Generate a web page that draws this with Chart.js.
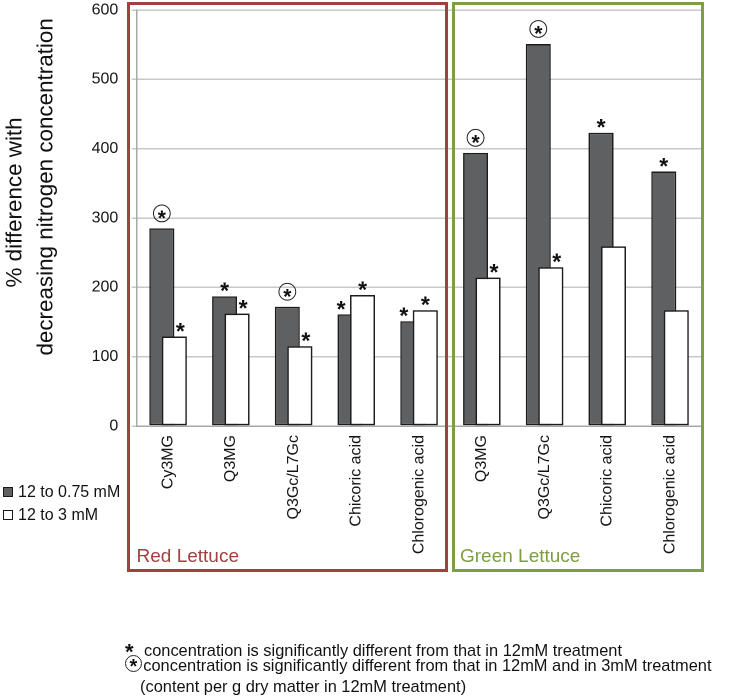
<!DOCTYPE html>
<html>
<head>
<meta charset="utf-8">
<script src="https://cdn.jsdelivr.net/npm/chart.js@4.4.1/dist/chart.umd.min.js"></script>
<style>
  html, body { margin: 0; padding: 0; background: #ffffff; }
  #wrap { position: relative; width: 733px; height: 698px; font-family: "Liberation Sans", Arial, sans-serif; color: #111; }
  #wrap canvas { position: absolute; left: 0; top: 0; }
  .box { position: absolute; box-sizing: border-box; border: 3px solid; pointer-events: none; }
  .grp { position: absolute; font-size: 19px; line-height: 1; }
  .leg { position: absolute; left: 3px; font-size: 16px; line-height: 1; display: flex; align-items: center; white-space: nowrap; }
  .leg i { display: inline-block; width: 8px; height: 8px; border: 1px solid #1a1a1a; margin-right: 5px; }
  .note { position: absolute; font-size: 16.4px; line-height: 1; white-space: nowrap; }
  .circ { position: absolute; width: 17px; height: 17px; border: 1px solid #222; border-radius: 50%; box-sizing: border-box; text-align: center; font-size: 20px; line-height: 21px; font-weight: bold; }
</style>
</head>
<body>
<div id="wrap">
  <canvas id="c" width="733" height="698"></canvas>
</div>
<script>
// ---- data ----
const categories = ['Cy3MG', 'Q3MG', 'Q3Gc/L7Gc', 'Chicoric acid', 'Chlorogenic acid',
                    'Q3MG', 'Q3Gc/L7Gc', 'Chicoric acid', 'Chlorogenic acid'];
const groupNames = ['Red Lettuce', 'Green Lettuce'];
const seriesNames = ['12 to 0.75 mM', '12 to 3 mM'];
const values075 = [285, 187, 172, 161, 151, 394, 551, 423, 367];
const values3 = [129, 162, 115, 189, 167, 214, 229, 259, 167];
// significance marks: 'c' = circled star, 's' = star, '' = none
const marks075 = ['c', 's', 'c', 's', 's', 'c', 'c', 's', 's'];
const marks3 = ['s', 's', 's', 's', 's', 's', 's', '', ''];
const yTicks = [0, 100, 200, 300, 400, 500, 600];
const yTitle = ['% difference with', 'decreasing nitrogen concentration'];
const notes = [
  'concentration is significantly different from that in 12mM treatment',
  'concentration is significantly different from that in 12mM and in 3mM treatment',
  '(content per g dry matter in 12mM treatment)'
];

const FONT = '"Liberation Sans", Arial, sans-serif';
const DARK = '#5f6062';
const EDGE = '#1c1c1c';
const RED = '#a2403f';
const GREEN = '#7e9e43';
const NB = '\u00A0';
// the title sits a little above the middle of the axis in the figure
const yTitleText = [NB.repeat(5) + yTitle[0], NB.repeat(10) + yTitle[1]];

// draw the 12-to-3 series above the other one (as in the figure)
const reorderPlugin = {
  id: 'reorder',
  afterDatasetsDraw(chart) {
    chart.getDatasetMeta(1).controller.draw();
  }
};

const markPlugin = {
  id: 'marks',
  afterDatasetsDraw(chart) {
    const ctx = chart.ctx;
    const sets = [marks075, marks3];
    const vals = [values075, values3];
    ctx.save();
    ctx.fillStyle = '#111';
    ctx.strokeStyle = '#222';
    ctx.lineWidth = 1;
    ctx.textAlign = 'center';
    ctx.textBaseline = 'alphabetic';
    for (let d = 0; d < 2; d++) {
      const meta = chart.getDatasetMeta(d);
      meta.data.forEach((bar, i) => {
        const m = sets[d][i];
        if (!m) return;
        const other = vals[1 - d][i];
        const mine = vals[d][i];
        let x = bar.x;
        if (mine < other) x += (d === 1 ? 6 : -9);
        if (m === 'c') {
          const cy = bar.y - 15;
          ctx.beginPath();
          ctx.arc(x, cy, 8.4, 0, Math.PI * 2);
          ctx.stroke();
          ctx.font = 'bold 21px ' + FONT;
          ctx.fillText('*', x, cy + 0.56 * 21);
        } else {
          const cy = bar.y - 10.5;
          ctx.font = 'bold 23px ' + FONT;
          ctx.fillText('*', x, cy + 0.56 * 23);
        }
      });
    }
    ctx.restore();
  }
};

const chart = new Chart(document.getElementById('c'), {
  type: 'bar',
  data: {
    labels: categories,
    datasets: [
      { label: seriesNames[0], data: values075, backgroundColor: DARK, borderColor: EDGE,
        borderWidth: 1.5, borderSkipped: false, categoryPercentage: 0.398, barPercentage: 2.0 },
      { label: seriesNames[1], data: values3, backgroundColor: '#ffffff', borderColor: EDGE,
        borderWidth: 1.5, borderSkipped: false, categoryPercentage: 0.398, barPercentage: 2.0 }
    ]
  },
  options: {
    responsive: false,
    maintainAspectRatio: false,
    animation: false,
    devicePixelRatio: 2,
    layout: { padding: { top: 10, right: 31.6, bottom: 122, left: 0 } },
    plugins: { legend: { display: false }, tooltip: { enabled: false } },
    scales: {
      x: {
        type: 'category',
        grid: { display: false, drawTicks: false },
        border: { display: true, color: '#a8a8a8', width: 1.5 },
        ticks: { autoSkip: false, maxRotation: 90, minRotation: 90, padding: 9,
                 color: '#151515', font: { family: FONT, size: 16 } },
        afterFit(s) { s.height = 150; }
      },
      y: {
        min: 0, max: 600,
        afterBuildTicks(s) { s.ticks = yTicks.map(v => ({ value: v })); },
        grid: { color: '#c8c8c8', lineWidth: 1.5, tickLength: 5, drawTicks: true },
        border: { display: true, color: '#a8a8a8', width: 1.5 },
        ticks: { padding: 13.4, color: '#151515', font: { family: FONT, size: 16 } },
        title: { display: true, text: yTitleText, color: '#111', padding: 0,
                 font: { family: FONT, size: 22.4, lineHeight: 1.38 } },
        afterFit(s) { s.width = 136.7; s.paddingTop = 10; s.paddingBottom = 10; }
      }
    }
  },
  plugins: [reorderPlugin, markPlugin]
});

// ---- overlay: boxes, group names, legend, notes ----
const wrap = document.getElementById('wrap');
function add(html) { wrap.insertAdjacentHTML('beforeend', html); }
add(`<div class="box" style="left:127px;top:2px;width:321px;height:570px;border-color:${RED}"></div>`);
add(`<div class="box" style="left:451.5px;top:2px;width:252.5px;height:570px;border-color:${GREEN}"></div>`);
add(`<div class="grp" style="left:136.5px;top:545.5px;color:${RED}">${groupNames[0]}</div>`);
add(`<div class="grp" style="left:460px;top:545.5px;color:${GREEN}">${groupNames[1]}</div>`);
add(`<div class="leg" style="top:484px"><i style="background:${DARK}"></i>${seriesNames[0]}</div>`);
add(`<div class="leg" style="top:507px"><i style="background:#fff"></i>${seriesNames[1]}</div>`);
add(`<div class="note" style="left:125px;top:641px;font-size:22px;font-weight:bold">*</div>`);
add(`<div class="note" style="left:144px;top:642px">${notes[0]}</div>`);
add(`<div class="circ" style="left:125px;top:654.5px">*</div>`);
add(`<div class="note" style="left:143.3px;top:657px">${notes[1]}</div>`);
add(`<div class="note" style="left:140px;top:678px">${notes[2]}</div>`);
</script>
</body>
</html>
